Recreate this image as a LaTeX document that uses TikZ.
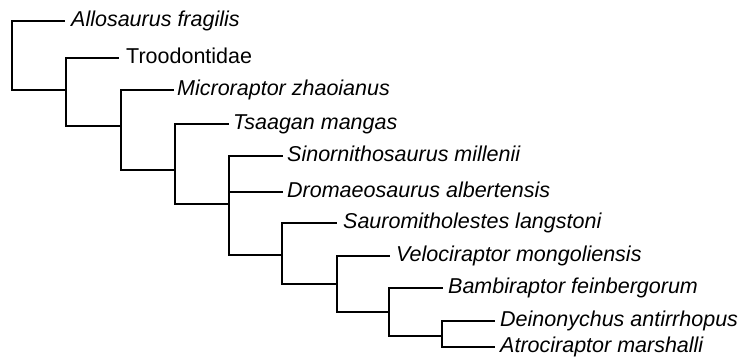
\documentclass[tikz,border=0pt]{standalone}
\usepackage{fontspec}
\setmainfont{Liberation Sans}
\newcommand\taxsize{\fontsize{21.5}{26}\selectfont}
\begin{document}
\begin{tikzpicture}[x=1pt,y=-1pt,
  branch/.style={line width=1.9pt, line join=miter, line cap=rect},
  taxon/.style={anchor=base west, inner sep=0pt, font=\taxsize\itshape},
  group/.style={anchor=base west, inner sep=0pt, font=\taxsize}]
\useasboundingbox (0,0) rectangle (748,361);
% internal nodes (x of bracket, y of attachment)
\coordinate (n1) at (12,55);
\coordinate (n2) at (66,90);
\coordinate (n3) at (121,126);
\coordinate (n4) at (175,170);
\coordinate (n5) at (229,204);
\coordinate (n6) at (282,255);
\coordinate (n7) at (337,284);
\coordinate (n8) at (389,312);
\coordinate (n9) at (442,336);
% leaf tips
\coordinate (t1) at (64,21);
\coordinate (t2) at (118,58);
\coordinate (t3) at (173,90);
\coordinate (t4) at (228,124);
\coordinate (t5) at (282,156);
\coordinate (t6) at (282,192);
\coordinate (t7) at (336,223);
\coordinate (t8) at (389,256);
\coordinate (t9) at (442,288);
\coordinate (t10) at (494,321);
\coordinate (t11) at (494,347);
% brackets
\draw[branch] (t1) -- (t1 -| n1) -- (n2 -| n1) -- (n2);
\draw[branch] (t2) -- (t2 -| n2) -- (n3 -| n2) -- (n3);
\draw[branch] (t3) -- (t3 -| n3) -- (n4 -| n3) -- (n4);
\draw[branch] (t4) -- (t4 -| n4) -- (n5 -| n4) -- (n5);
\draw[branch] (t5) -- (t5 -| n5) -- (n6 -| n5) -- (n6);
\draw[branch] (t6) -- (t6 -| n5);
\draw[branch] (t7) -- (t7 -| n6) -- (n7 -| n6) -- (n7);
\draw[branch] (t8) -- (t8 -| n7) -- (n8 -| n7) -- (n8);
\draw[branch] (t9) -- (t9 -| n8) -- (n9 -| n8) -- (n9);
\draw[branch] (t10) -- (t10 -| n9) -- (t11 -| n9) -- (t11);
% labels
\node[taxon] (l1) at ([xshift=7pt,yshift=-5.5pt]t1) {Allosaurus fragilis};
\node[group] (l2) at ([xshift=8pt,yshift=-5.5pt]t2) {Troodontidae};
\node[taxon] (l3) at ([xshift=4pt,yshift=-5.5pt]t3) {Microraptor zhaoianus};
\node[taxon] (l4) at ([xshift=5pt,yshift=-5.5pt]t4) {Tsaagan mangas};
\node[taxon] (l5) at ([xshift=5pt,yshift=-5.5pt]t5) {Sinornithosaurus millenii};
\node[taxon] (l6) at ([xshift=5pt,yshift=-5.5pt]t6) {Dromaeosaurus albertensis};
\node[taxon] (l7) at ([xshift=7pt,yshift=-5.5pt]t7) {Sauromitholestes langstoni};
\node[taxon] (l8) at ([xshift=7pt,yshift=-5.5pt]t8) {Velociraptor mongoliensis};
\node[taxon] (l9) at ([xshift=6pt,yshift=-5.5pt]t9) {Bambiraptor feinbergorum};
\node[taxon] (l10) at ([xshift=6pt,yshift=-5.5pt]t10) {Deinonychus antirrhopus};
\node[taxon] (l11) at ([xshift=6pt,yshift=-5.5pt]t11) {Atrociraptor marshalli};
\end{tikzpicture}
\end{document}
